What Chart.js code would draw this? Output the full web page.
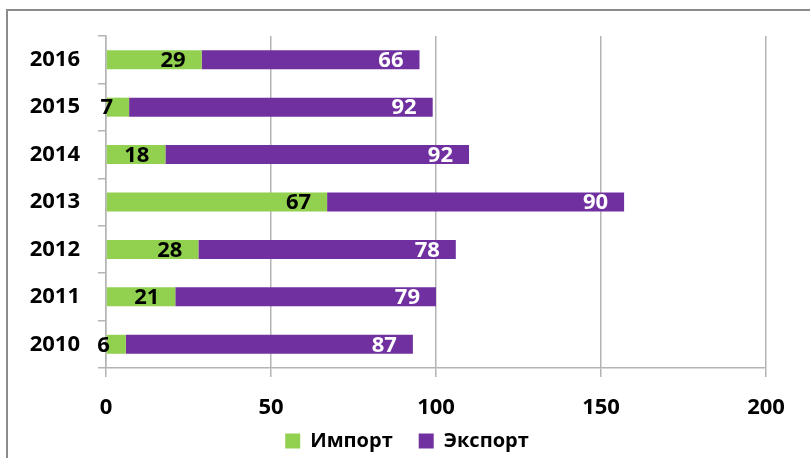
<!DOCTYPE html>
<html lang="ru">
<head>
  <meta charset="UTF-8" />
  <title>Импорт и экспорт</title>
  <script src="https://cdn.jsdelivr.net/npm/chart.js"></script>
  <style>
    body { margin: 0; background: #fff; }
    #wrap { position: relative; width: 810px; height: 458px; overflow: hidden; }
    #frame { position: absolute; left: 6px; top: 9px; width: 900px; height: 600px; border: 2px solid #8c8c8c; }
    canvas { position: absolute; left: 0; top: 0; }
  </style>
</head>
<body>
  <div id="wrap">
    <div id="frame"></div>
    <canvas id="chart" width="810" height="458"></canvas>
  </div>

  <script>
    const years = ['2016', '2015', '2014', '2013', '2012', '2011', '2010'];
    const importValues = [29, 7, 18, 67, 28, 21, 6];
    const exportValues = [66, 92, 92, 90, 78, 79, 87];
    const xTicks = [0, 50, 100, 150, 200];

    const font = { family: 'Open Sans', size: 22, weight: 'bold' };

    // value labels, right-aligned inside the end of each segment
    const barLabels = {
      id: 'barLabels',
      afterLayout(chart) {
        // legend sits a bit right of centre and lower in the original
        chart.legend.left += 24;
        chart.legend.right += 24;
        chart.legend.top += 3;
        chart.legend.bottom += 3;
      },
      afterDatasetsDraw(chart) {
        const ctx = chart.ctx;
        ctx.save();
        ctx.font = 'bold 22px "Open Sans"';
        ctx.textAlign = 'right';
        ctx.textBaseline = 'middle';
        chart.data.datasets.forEach((ds, i) => {
          const meta = chart.getDatasetMeta(i);
          ctx.fillStyle = i === 0 ? '#000' : '#fff';
          meta.data.forEach((bar, j) => {
            ctx.fillText(ds.data[j], bar.x - 16, bar.y + 1);
          });
        });
        ctx.restore();
      }
    };

    new Chart(document.getElementById('chart'), {
      type: 'bar',
      data: {
        labels: years,
        datasets: [
          { label: 'Импорт', data: importValues, backgroundColor: '#92d050' },
          { label: 'Экспорт', data: exportValues, backgroundColor: '#7030a0' }
        ]
      },
      options: {
        indexAxis: 'y',
        responsive: false,
        animation: false,
        devicePixelRatio: 1,
        layout: { padding: { top: 36, right: 44, left: 0, bottom: 0 } },
        datasets: { bar: { barPercentage: 0.4, categoryPercentage: 1 } },
        scales: {
          x: {
            stacked: true,
            min: 0,
            max: 200,
            afterBuildTicks: s => { s.ticks = xTicks.map(v => ({ value: v })); },
            grid: { color: '#b4b4b4', lineWidth: 1.5, tickLength: 9 },
            border: { color: '#b4b4b4', width: 1.5 },
            ticks: { color: '#000', font, padding: 18 },
            afterFit: s => {
              s.height = 34;
              s._computeLabelArea = () => undefined; // don't clip labels to the short box
            }
          },
          y: {
            stacked: true,
            grid: { offset: true, drawOnChartArea: false, color: '#b4b4b4', lineWidth: 1.5, tickLength: 8 },
            border: { color: '#b4b4b4', width: 1.5 },
            ticks: { color: '#000', font, padding: 18 },
            afterFit: s => { s.width = 106; }
          }
        },
        plugins: {
          legend: {
            position: 'bottom',
            labels: { color: '#000', font: { family: 'Open Sans', size: 20, weight: 'bold' }, boxWidth: 15, boxHeight: 15, padding: 26 }
          },
          tooltip: { enabled: false }
        }
      },
      plugins: [barLabels]
    });
  </script>
</body>
</html>
